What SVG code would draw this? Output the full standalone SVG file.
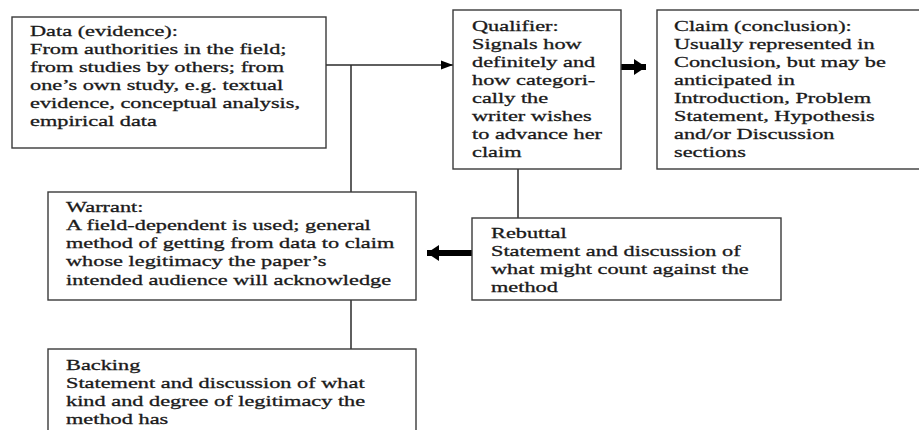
<svg xmlns="http://www.w3.org/2000/svg" width="919" height="430" viewBox="0 0 919 430">
  <style>
    .box { fill: #ffffff; stroke: #3a3a3a; stroke-width: 1.4; }
    .txt { font-size: 15.5px; fill: #1a1a1a; stroke: #1a1a1a; stroke-width: 0.3; }
    .thin { fill: none; stroke: #2a2a2a; stroke-width: 1.5; }
    .thick { fill: none; stroke: #000000; stroke-width: 6; }
  </style>
  <defs>
    <marker id="headThin" markerUnits="userSpaceOnUse" viewBox="0 0 12 10" refX="12" refY="5" markerWidth="12" markerHeight="10" orient="auto">
      <path d="M0,0.5 L12,5 L0,9.5 Z" fill="#000000"/>
    </marker>
    <marker id="headThick" markerUnits="userSpaceOnUse" viewBox="0 0 12 18" refX="12" refY="9" markerWidth="12" markerHeight="18" orient="auto">
      <path d="M0,1 L12,9 L0,17 Z" fill="#000000"/>
    </marker>
  </defs>

  <rect width="919" height="430" fill="#ffffff"/>

  <!-- connectors -->
  <g id="connectors">
    <path class="thin" d="M326,65 L453,65" marker-end="url(#headThin)"/>
    <path class="thin" d="M351,65 L351,192"/>
    <path class="thin" d="M351,300 L351,349"/>
    <path class="thin" d="M518,169 L518,218"/>
    <path class="thick" d="M621,67 L646,67" marker-end="url(#headThick)"/>
    <path class="thick" d="M472,253 L427,253" marker-end="url(#headThick)"/>
  </g>

  <g font-family="'Liberation Serif', 'Times New Roman', Times, serif">
  <g id="data">
    <rect class="box" x="12" y="17" width="314" height="131"/>
    <g transform="translate(30 0) scale(1.44 1)">
      <text class="txt">
        <tspan x="0" y="36">Data (evidence):</tspan>
        <tspan x="0" y="54">From authorities in the field;</tspan>
        <tspan x="0" y="72">from studies by others; from</tspan>
        <tspan x="0" y="90">one’s own study, e.g. textual</tspan>
        <tspan x="0" y="108">evidence, conceptual analysis,</tspan>
        <tspan x="0" y="126">empirical data</tspan>
      </text>
    </g>
  </g>

  <g id="qualifier">
    <rect class="box" x="453" y="10" width="168" height="159"/>
    <g transform="translate(472 0) scale(1.44 1)">
      <text class="txt">
        <tspan x="0" y="31">Qualifier:</tspan>
        <tspan x="0" y="49">Signals how</tspan>
        <tspan x="0" y="67">definitely and</tspan>
        <tspan x="0" y="85">how categori-</tspan>
        <tspan x="0" y="103">cally the</tspan>
        <tspan x="0" y="121">writer wishes</tspan>
        <tspan x="0" y="139">to advance her</tspan>
        <tspan x="0" y="157">claim</tspan>
      </text>
    </g>
  </g>

  <g id="claim">
    <rect class="box" x="657" y="10" width="270" height="159"/>
    <g transform="translate(674 0) scale(1.44 1)">
      <text class="txt">
        <tspan x="0" y="31">Claim (conclusion):</tspan>
        <tspan x="0" y="49">Usually represented in</tspan>
        <tspan x="0" y="67">Conclusion, but may be</tspan>
        <tspan x="0" y="85">anticipated in</tspan>
        <tspan x="0" y="103">Introduction, Problem</tspan>
        <tspan x="0" y="121">Statement, Hypothesis</tspan>
        <tspan x="0" y="139">and/or Discussion</tspan>
        <tspan x="0" y="157">sections</tspan>
      </text>
    </g>
  </g>

  <g id="warrant">
    <rect class="box" x="48" y="192" width="368" height="108"/>
    <g transform="translate(66 0) scale(1.44 1)">
      <text class="txt">
        <tspan x="0" y="212">Warrant:</tspan>
        <tspan x="0" y="230">A field-dependent is used; general</tspan>
        <tspan x="0" y="248">method of getting from data to claim</tspan>
        <tspan x="0" y="266.5">whose legitimacy the paper’s</tspan>
        <tspan x="0" y="285">intended audience will acknowledge</tspan>
      </text>
    </g>
  </g>

  <g id="rebuttal">
    <rect class="box" x="472" y="218" width="309" height="82"/>
    <g transform="translate(491 0) scale(1.44 1)">
      <text class="txt">
        <tspan x="0" y="238">Rebuttal</tspan>
        <tspan x="0" y="256">Statement and discussion of</tspan>
        <tspan x="0" y="274">what might count against the</tspan>
        <tspan x="0" y="292">method</tspan>
      </text>
    </g>
  </g>

  <g id="backing">
    <rect class="box" x="48" y="349" width="368" height="95"/>
    <g transform="translate(66 0) scale(1.44 1)">
      <text class="txt">
        <tspan x="0" y="370">Backing</tspan>
        <tspan x="0" y="388">Statement and discussion of what</tspan>
        <tspan x="0" y="406">kind and degree of legitimacy the</tspan>
        <tspan x="0" y="424">method has</tspan>
      </text>
    </g>
  </g>
  </g>
</svg>
